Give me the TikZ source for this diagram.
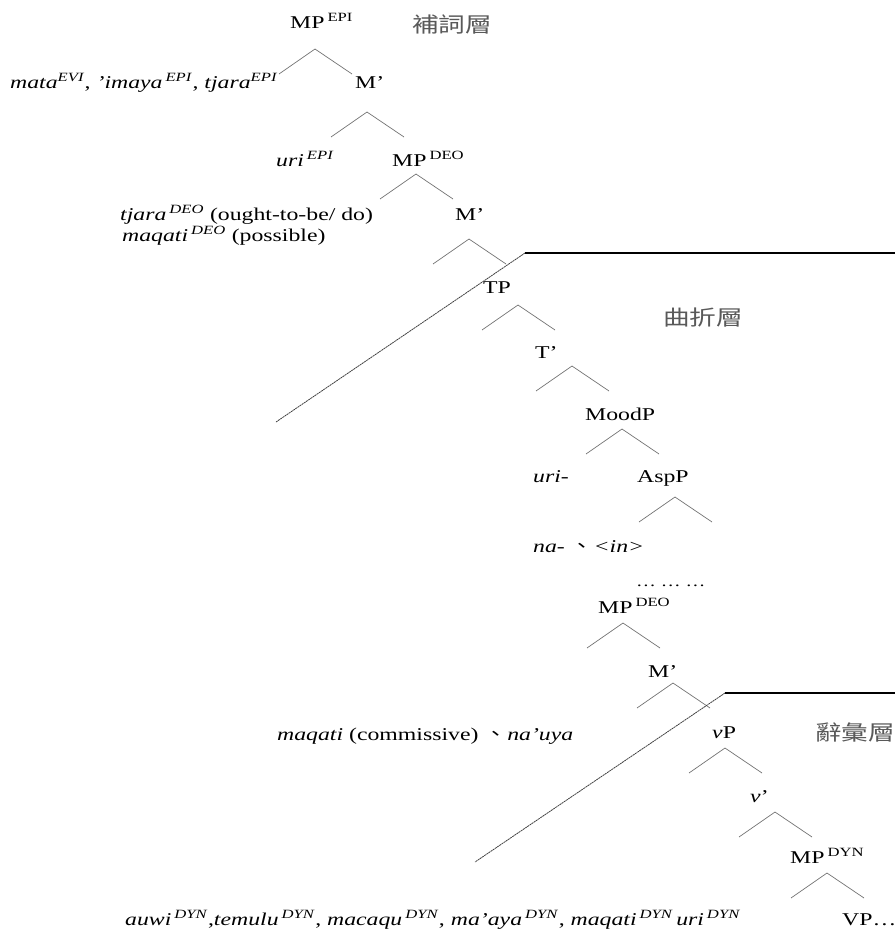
\documentclass[tikz,border=0pt]{standalone}
\usepackage{fontspec}
\setmainfont{Liberation Serif}[FakeStretch=1.32]
\newfontfamily\cjk{Noto Sans CJK TC}[FakeStretch=1.27]
\newcommand\spr[1]{\,\textsuperscript{#1}}
\newcommand\ispr[1]{\,\textsuperscript{\textit{#1}}}
\newcommand\roof[1]{\draw[branch] (#1) ++(-36,25) -- (#1) -- ++(37,25);}

\begin{document}
\begin{tikzpicture}[x=1pt, y=-1pt,
  every node/.style={anchor=base west, inner sep=0pt, font=\fontsize{18}{21}\selectfont},
  branch/.style={black!55, line width=0.7pt},
  tier/.style={anchor=west, text=black!65, font=\cjk\fontsize{21}{21}\selectfont}]

\useasboundingbox (0,0) rectangle (895,932);

% complementizer layer
\node (mp1) at (290,28) {MP\spr{EPI}};
\node[tier] (comp) at (412,24) {補詞層};
\node (spec1) at (10,88) {\textit{mata}\textsuperscript{\textit{EVI}}, \textit{’imaya}\ispr{EPI}, \textit{tjara}\textsuperscript{\textit{EPI}}};
\node (m1) at (355,88) {M’};
\node (uri1) at (276,166) {\textit{uri}\ispr{EPI}};
\node (mp2) at (392,166) {MP\spr{DEO}};
\node (tja) at (120,220) {\textit{tjara}\ispr{DEO} (ought-to-be/ do)};
\node (m2) at (455,220) {M’};
\node (maq1) at (122,241) {\textit{maqati}\ispr{DEO} (possible)};

% inflection layer
\node (tp) at (483,293) {TP};
\node[tier] (infl) at (663,318) {曲折層};
\node (t1) at (535,358) {T’};
\node (mood) at (585,420) {MoodP};
\node (uri2) at (533,482) {\textit{uri-}};
\node (asp) at (637,482) {AspP};
\node (na) at (533,552) {\textit{na-} {\cjk 、}\textit{<in>}};
\node[font=\fontsize{15}{15}\selectfont] (dots) at (636,586) {\ldots\ \ldots\ \ldots};
\node (mp3) at (598,613) {MP\spr{DEO}};
\node (m3) at (648,677) {M’};
\node (maq2) at (277,740) {\textit{maqati} (commissive) {\cjk 、}\textit{na’uya}};

% lexical layer
\node (vp) at (712,738) {\textit{v}P};
\node[tier] (lex) at (815,732) {辭彙層};
\node (v1) at (750,802) {\textit{v}’};
\node (mp4) at (790,863) {MP\spr{DYN}};
\node (dyn) at (125,925) {\textit{auwi}\ispr{DYN},\textit{temulu}\ispr{DYN}, \textit{macaqu}\ispr{DYN}, \textit{ma’aya}\ispr{DYN}, \textit{maqati}\ispr{DYN}\,\textit{uri}\ispr{DYN}};
\node (vpx) at (842,925) {VP\ldots};

% roofs
\coordinate (mp1-a) at (315,49);
\coordinate (m1-a) at (367,112);
\coordinate (mp2-a) at (416,174);
\coordinate (m2-a) at (469,239);
\coordinate (tp-a) at (518,305);
\coordinate (t1-a) at (572,366);
\coordinate (mood-a) at (622,429);
\coordinate (asp-a) at (675,497);
\coordinate (mp3-a) at (623,623);
\coordinate (m3-a) at (673,683);
\coordinate (vp-a) at (725,748);
\coordinate (v1-a) at (775,812);
\coordinate (mp4-a) at (827,873);
\foreach \r in {mp1,m1,mp2,m2,tp,t1,mood,asp,mp3,m3,vp,v1,mp4}
  {\roof{\r-a}}

% layer borders
\coordinate (cut1) at (525,253);
\coordinate (cut1-e) at (895,253);
\coordinate (cut1-w) at (276,422);
\coordinate (cut2) at (725,693);
\coordinate (cut2-e) at (895,693);
\coordinate (cut2-w) at (475,862);

\begin{scope}[line width=1.3pt]
\draw (cut1) -- (cut1-e);
\draw (cut2) -- (cut2-e);
\end{scope}

\begin{scope}[black!75, line width=0.8pt, dash pattern=on 2pt off 0.6pt]
\draw (cut1) -- (cut1-w);
\draw (cut2) -- (cut2-w);
\end{scope}

\end{tikzpicture}
\end{document}
